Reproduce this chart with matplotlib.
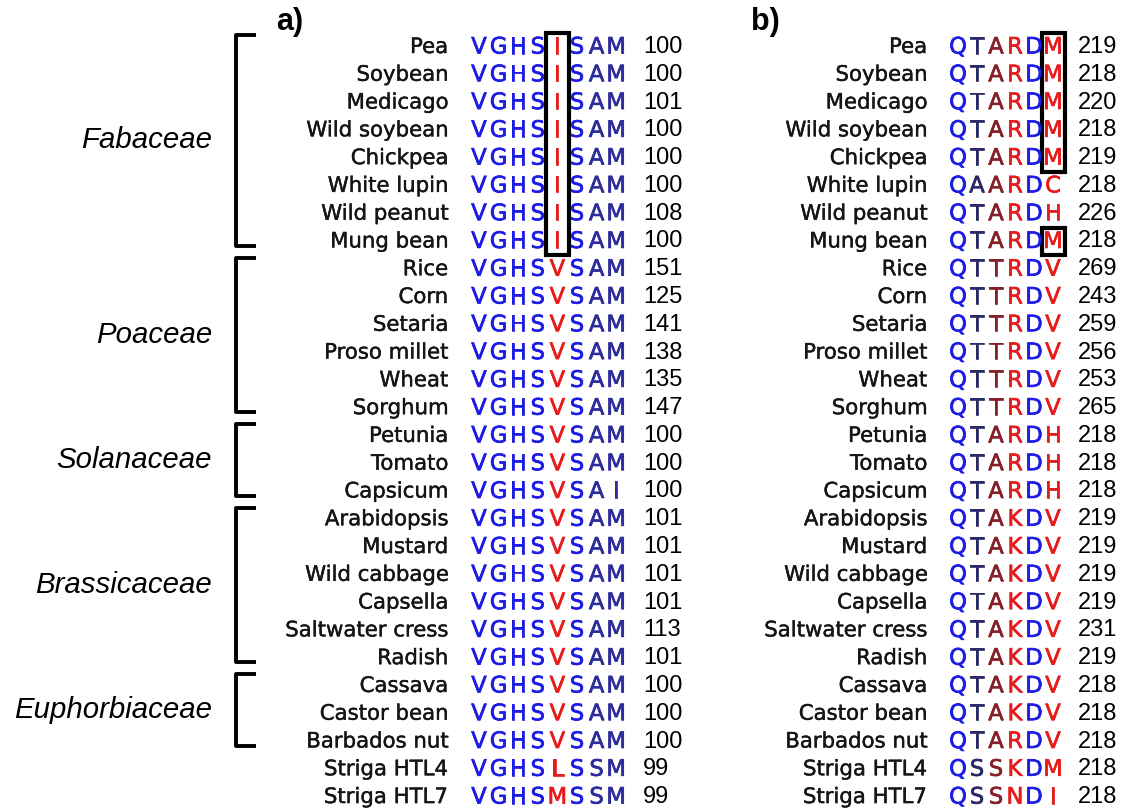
import matplotlib
matplotlib.use('Agg')
import matplotlib.pyplot as plt
import matplotlib.patheffects as pe
from matplotlib.patches import Rectangle

# species (rows, top to bottom)
species = ['Pea', 'Soybean', 'Medicago', 'Wild soybean', 'Chickpea', 'White lupin',
           'Wild peanut', 'Mung bean', 'Rice', 'Corn', 'Setaria', 'Proso millet',
           'Wheat', 'Sorghum', 'Petunia', 'Tomato', 'Capsicum', 'Arabidopsis',
           'Mustard', 'Wild cabbage', 'Capsella', 'Saltwater cress', 'Radish',
           'Cassava', 'Castor bean', 'Barbados nut', 'Striga HTL4', 'Striga HTL7']

# panel a) residues and positions
seq_a = ['VGHSISAM'] * 8 + ['VGHSVSAM'] * 8 + ['VGHSVSAI'] + ['VGHSVSAM'] * 9 + \
        ['VGHSLSSM', 'VGHSMSSM']
num_a = [100, 100, 101, 100, 100, 100, 108, 100, 151, 125, 141, 138, 135, 147,
         100, 100, 100, 101, 101, 101, 101, 113, 101, 100, 100, 100, 99, 99]

# panel b) residues and positions
seq_b = ['QTARDM', 'QTARDM', 'QTARDM', 'QTARDM', 'QTARDM', 'QAARDC', 'QTARDH',
         'QTARDM', 'QTTRDV', 'QTTRDV', 'QTTRDV', 'QTTRDV', 'QTTRDV', 'QTTRDV',
         'QTARDH', 'QTARDH', 'QTARDH', 'QTAKDV', 'QTAKDV', 'QTAKDV', 'QTAKDV',
         'QTAKDV', 'QTAKDV', 'QTAKDV', 'QTAKDV', 'QTARDV', 'QSSKDM', 'QSSNDI']
num_b = [219, 218, 220, 218, 219, 218, 226, 218, 269, 243, 259, 256, 253, 265,
         218, 218, 218, 219, 219, 219, 219, 231, 219, 218, 218, 218, 218, 218]

# plant families: name, first row, last row
families = ['Fabaceae', 'Poaceae', 'Solanaceae', 'Brassicaceae', 'Euphorbiaceae']
fam_first = [0, 8, 14, 17, 23]
fam_last = [7, 13, 16, 22, 25]

# highlighted residues (rows boxed together, column)
boxes_a = [(0, 7, 4)]
boxes_b = [(0, 4, 5), (7, 7, 5)]

# colours
blue = '#1c1ce6'
navy_a = '#2c2c9c'
navy_b = '#2a2a66'
dred = '#852028'
red = '#e61c1c'
cols_a = [blue, blue, blue, blue, red, blue, navy_a, navy_a]
cols_b = [blue, navy_b, dred, red, blue, red]

# layout (pixels)
y0, dy = 47, 27.78
ax_a, dx_a = 479, 19.6
ax_b, dx_b = 958, 19.0

fig = plt.figure(figsize=(11.29, 8.10), dpi=100)
ax = fig.add_axes([0, 0, 1, 1])
ax.set_xlim(0, 1129)
ax.set_ylim(810, 0)
ax.axis('off')


def row_y(i):
    return y0 + i * dy


def thick(c, w):
    return [pe.withStroke(linewidth=w, foreground=c)]


def draw_panel(name_x, seq, nums, cx0, cdx, colours, num_x, boxes):
    for i, sp in enumerate(species):
        y = row_y(i)
        ax.text(name_x, y, sp, ha='right', va='center', fontsize=15.3,
                family='DejaVu Sans', color='#151515',
                path_effects=thick('#151515', 0.3))
        for j, ch in enumerate(seq[i]):
            ax.text(cx0 + j * cdx, y, ch, ha='center', va='center', fontsize=16.3,
                    family='DejaVu Sans', color=colours[j],
                    path_effects=thick(colours[j], 0.5))
        ax.text(num_x, y, str(nums[i]), ha='left', va='center', fontsize=17,
                family='Liberation Sans', color='black')
    for r1, r2, c in boxes:
        x = cx0 + c * cdx
        top = row_y(r1) - dy * 0.5
        bot = row_y(r2) + dy * 0.5
        ax.add_patch(Rectangle((x - 11.5, top), 23, bot - top, fill=False,
                               edgecolor='black', linewidth=3))


draw_panel(448, seq_a, num_a, ax_a, dx_a, cols_a, 643, boxes_a)
draw_panel(927, seq_b, num_b, ax_b, dx_b, cols_b, 1078, boxes_b)

ax.text(276, 22, 'a)', ha='left', va='center', fontsize=22, fontweight='bold',
        family='Liberation Sans')
ax.text(751, 22, 'b)', ha='left', va='center', fontsize=22, fontweight='bold',
        family='Liberation Sans')

# family brackets
for fam, f1, f2 in zip(families, fam_first, fam_last):
    top = row_y(f1) - dy * 0.42
    bot = row_y(f2) + dy * 0.15
    ax.plot([256, 236, 236, 256], [top, top, bot, bot], color='black',
            linewidth=2.8, solid_joinstyle='round', solid_capstyle='butt')
    ax.text(212, (top + bot) / 2, fam, ha='right', va='center', fontsize=21.2,
            style='italic', family='Liberation Sans')

fig.savefig('out.png', dpi=100)
